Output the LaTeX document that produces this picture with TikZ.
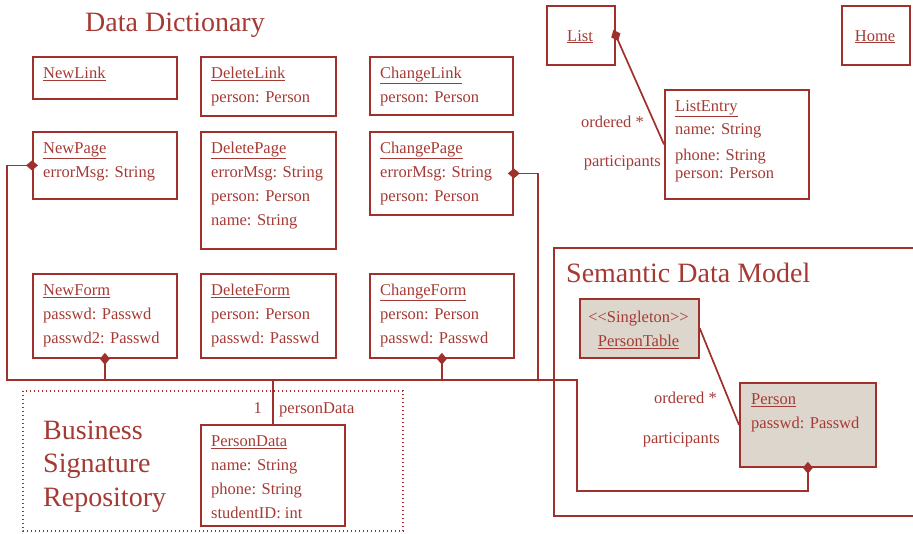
\documentclass[tikz,border=0pt]{standalone}
\usepackage{fontspec}
\setmainfont{Liberation Serif}
\usetikzlibrary{arrows.meta}
\definecolor{dred}{RGB}{160,48,43}
\definecolor{tred}{RGB}{165,58,52}
\definecolor{sand}{RGB}{221,214,205}
% invisible strut fixing the top of the first text line
\newcommand\lnstrut{\rule{0pt}{14pt}}
\newcommand\bigstrut{\rule{0pt}{22pt}}
\tikzset{
  box/.style={draw=dred, line width=1.8pt, rectangle, anchor=north west, inner sep=0pt},
  shaded/.style={box, fill=sand},
  txt/.style={text=tred, anchor=north west, inner sep=0pt, align=left,
              font=\fontsize{16.5}{24}\selectfont},
  lbl/.style={text=tred, inner sep=0pt, font=\fontsize{16.5}{24}\selectfont},
  title/.style={text=tred, inner sep=0pt, font=\fontsize{28}{33.5}\selectfont},
  conn/.style={draw=dred, line width=1.7pt},
  dia/.style={{Diamond[length=12pt,width=10pt]}-, shorten <=-6pt},
  dia2/.style={{Diamond[length=12pt,width=10pt]}-{Diamond[length=12pt,width=10pt]},
               shorten <=-6pt, shorten >=-6pt},
  frame/.style={draw=dred, line width=1.4pt},
}
\begin{document}
\begin{tikzpicture}[x=1pt,y=-1pt]
\useasboundingbox (0,0) rectangle (913,533);

% ---------- package frames ----------
\draw[frame] (913,248) -- (554,248) -- (554,516) -- (913,516);
\draw[draw=dred, line width=1.4pt, dash pattern=on 1.3pt off 2.7pt]
  (23,391) rectangle (403,531);

% ---------- titles ----------
\node[title, anchor=base west] (ddTitle) at (85,31) {Data Dictionary};
\node[title, anchor=base west] (sdmTitle) at (566,282) {Semantic Data Model};
\node[title, anchor=north west, align=left] (bsrTitle) at (43,417)
  {\bigstrut Business\\Signature\\Repository};

% ---------- Data Dictionary classes ----------
\node[box, minimum width=144pt, minimum height=42pt]  (newlink)    at (32,56) {};
\node[box, minimum width=135pt, minimum height=59pt]  (deletelink) at (200,56) {};
\node[box, minimum width=143pt, minimum height=58pt]  (changelink) at (369,56) {};
\node[box, minimum width=144pt, minimum height=67pt]  (newpage)    at (32,131) {};
\node[box, minimum width=135pt, minimum height=117pt] (deletepage) at (200,131) {};
\node[box, minimum width=143pt, minimum height=83pt]  (changepage) at (369,131) {};
\node[box, minimum width=144pt, minimum height=84pt]  (newform)    at (32,273) {};
\node[box, minimum width=135pt, minimum height=84pt]  (deleteform) at (200,273) {};
\node[box, minimum width=144pt, minimum height=84pt]  (changeform) at (369,273) {};

\node[txt] (tNewlink)    at (43,64)   {\lnstrut\underline{NewLink}};
\node[txt] (tDeletelink) at (211,64)  {\lnstrut\underline{DeleteLink}\\person: Person};
\node[txt] (tChangelink) at (380,64)  {\lnstrut\underline{ChangeLink}\\person: Person};
\node[txt] (tNewpage)    at (43,139)  {\lnstrut\underline{NewPage}\\errorMsg: String};
\node[txt] (tDeletepage) at (211,139) {\lnstrut\underline{DeletePage}\\errorMsg: String\\person: Person\\name: String};
\node[txt] (tChangepage) at (380,139) {\lnstrut\underline{ChangePage}\\errorMsg: String\\person: Person};
\node[txt] (tNewform)    at (43,281)  {\lnstrut\underline{NewForm}\\passwd: Passwd\\passwd2: Passwd};
\node[txt] (tDeleteform) at (211,281) {\lnstrut\underline{DeleteForm}\\person: Person\\passwd: Passwd};
\node[txt] (tChangeform) at (380,281) {\lnstrut\underline{ChangeForm}\\person: Person\\passwd: Passwd};

% ---------- List / Home ----------
\node[box, minimum width=68pt, minimum height=59pt]   (list)      at (546,5) {};
\node[box, minimum width=68pt, minimum height=59pt]   (home)      at (841,5) {};
\node[box, minimum width=144pt, minimum height=109pt] (listentry) at (664,89) {};
\node[lbl, anchor=base] (tList) at (580,41) {\underline{List}};
\node[lbl, anchor=base] (tHome) at (875,41) {\underline{Home}};
\node[txt] (tListentry) at (675,97)
  {\lnstrut\underline{ListEntry}\\[-1pt]name: String\\[2pt]phone: String\\[-6pt]person: Person};
\node[lbl, anchor=base east] (ordA) at (644,127) {ordered *};
\node[lbl, anchor=base east] (parA) at (661,166) {participants};

% ---------- Semantic Data Model ----------
\node[shaded, minimum width=119pt, minimum height=59pt] (ptable) at (579,298) {};
\node[shaded, minimum width=136pt, minimum height=84pt] (person) at (739,382) {};
\node[txt, anchor=north, align=center] (tPtable) at (638.5,308)
  {\lnstrut<{}<Singleton>{}>\\\underline{PersonTable}};
\node[txt] (tPerson) at (751,390) {\lnstrut\underline{Person}\\passwd: Passwd};
\node[lbl, anchor=base east] (ordB) at (717,403) {ordered *};
\node[lbl, anchor=base east] (parB) at (720,443) {participants};

% ---------- Business Signature Repository ----------
\node[box, minimum width=144pt, minimum height=101pt] (persondata) at (200,424) {};
\node[txt] (tPersondata) at (211,432)
  {\lnstrut\underline{PersonData}\\name: String\\phone: String\\studentID: int};
\node[lbl, anchor=base east] (mult) at (262,413) {1};
\node[lbl, anchor=base west] (role) at (279,413) {personData};

% ---------- connectors ----------
\coordinate (busL) at (7,380);
\coordinate (busJ) at (538,380);
\coordinate (busR) at (577,380);
\coordinate (busB) at (577,491);

\draw[conn, dia2] (newpage.west) -| (busL) -- (busR) -- (busB) -| (person.south);
\draw[conn, dia] (changepage.east) -| (busJ);
\draw[conn, dia] (newform.south) -- (newform.south |- busL);
\draw[conn, dia] (changeform.south) -- (changeform.south |- busL);
\draw[conn] (persondata.north) -- (persondata.north |- busL);
\draw[conn, dia] (list.east) -- (listentry.west);
\draw[conn] (ptable.east) -- (person.west);
\end{tikzpicture}
\end{document}
